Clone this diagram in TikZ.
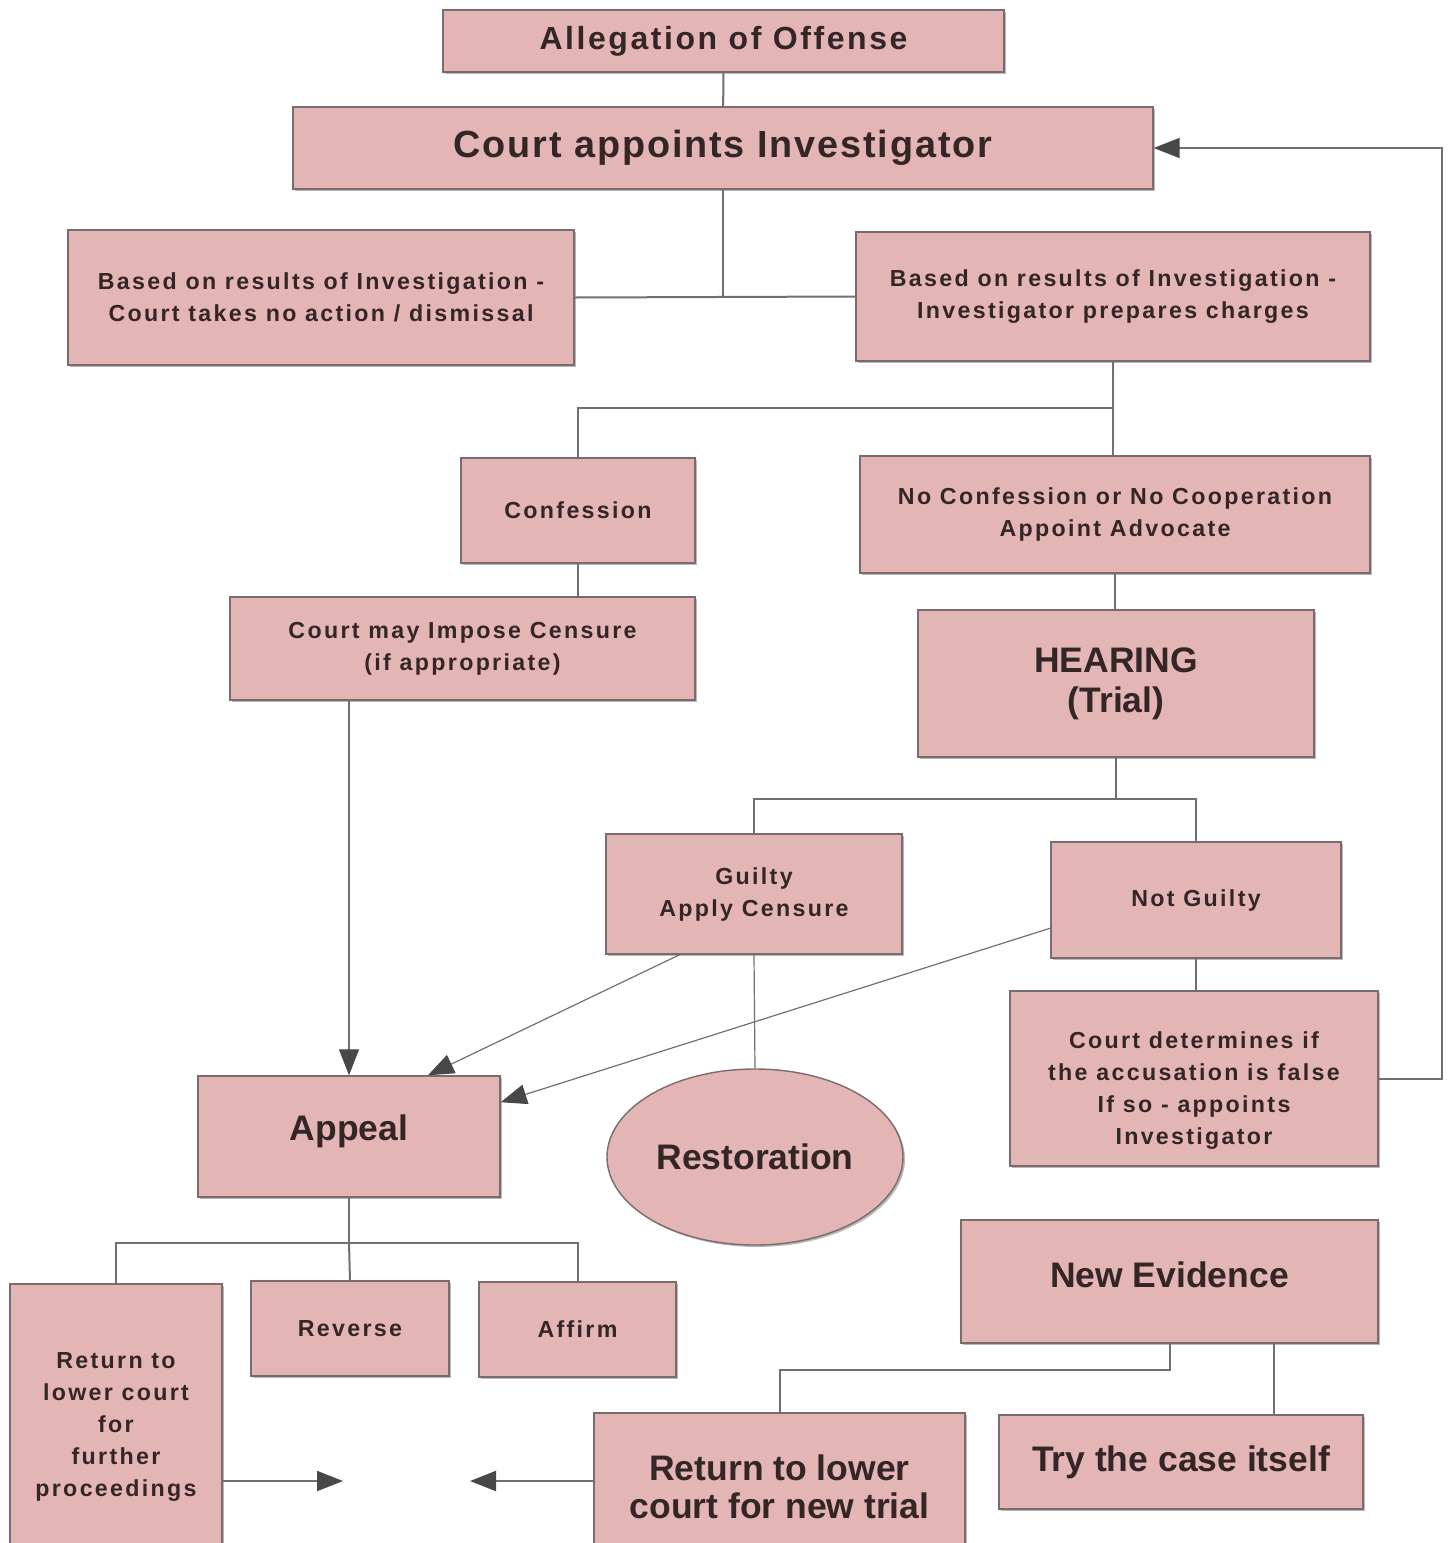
\documentclass[tikz,border=0pt]{standalone}
\usepackage{fontspec}
\setmainfont{Liberation Sans}
\newfontfamily\notefont[LetterSpace=10]{Liberation Sans}
\usetikzlibrary{calc,shapes.geometric,shadows,arrows.meta}
\definecolor{boxfill}{RGB}{227,181,181}
\definecolor{boxline}{RGB}{122,108,108}
\definecolor{ink}{RGB}{52,38,38}
\definecolor{linkgray}{RGB}{112,112,112}
\definecolor{tipgray}{RGB}{72,72,72}
\tikzset{
	box/.style={draw=boxline, line width=0.7pt, fill=boxfill, text=ink, align=center, inner sep=0pt,
		drop shadow={shadow xshift=1pt, shadow yshift=-1pt, fill=black!55, opacity=0.5}},
	sz/.style 2 args={minimum width=#1, minimum height=#2},
	note/.style={box, font=\notefont\bfseries\fontsize{11.6}{16}\selectfont},
	title/.style={box, font=\bfseries\fontsize{17.75}{20}\selectfont},
	link/.style={draw=linkgray, line width=1pt},
	thinlink/.style={draw=linkgray, line width=0.6pt},
	arr/.style={-{Triangle[length=13pt,width=10pt,color=tipgray]}}
}
\begin{document}
\begin{tikzpicture}[x=0.5pt,y=-0.5pt]
		%%%%% START %%%%%
		\useasboundingbox (0,0) rectangle (1448,1543);
		
		\node[title, sz={280.5pt}{31pt}, font=\bfseries\addfontfeature{LetterSpace=8}\fontsize{16}{20}\selectfont] (alleg) at (723.5,41) {Allegation of Offense};
		\node[title, sz={430pt}{41pt}, font=\bfseries\addfontfeature{LetterSpace=5}\fontsize{18.9}{22}\selectfont] (court) at (723,148) {Court appoints Investigator};
		
		\node[note, sz={253pt}{67.5pt}] (dismiss) at (321,297.5) {Based on results of Investigation -\\Court takes no action / dismissal};
		\node[note, sz={257pt}{64.5pt}] (charges) at (1113,296.5) {Based on results of Investigation -\\Investigator prepares charges};
		
		\node[note, sz={117pt}{52.5pt}] (confess) at (578,510.5) {Confession};
		\node[note, sz={255pt}{58.5pt}] (noconf) at (1115,514.5) {No Confession or No Cooperation\\Appoint Advocate};
		\node[note, sz={232.5pt}{51.5pt}] (censure) at (462.5,648.5) {Court may Impose Censure\\(if appropriate)};
		\node[title, sz={198pt}{73.5pt}] (hearing) at (1116,683.5) {HEARING\\(Trial)};
		
		\node[note, sz={148pt}{60pt}] (guilty) at (754,894) {Guilty\\Apply Censure};
		\node[note, sz={145pt}{58pt}] (notguilty) at (1196,900) {Not Guilty};
		\node[note, sz={184pt}{87.5pt}] (determ) at (1194,1078.5) {\rule{0pt}{20pt}Court determines if\\the accusation is false\\If so - appoints\\Investigator};
		
		\node[title, sz={151pt}{60.5pt}] (appeal) at (349,1136.5) {\rule[-9pt]{0pt}{9pt}Appeal};
		\node[title, ellipse, sz={148pt}{88pt}] (restor) at (755,1157) {Restoration};
		
		\node[note, sz={106pt}{143pt}] (further) at (116,1427) {Return to\\lower court\\for\\further\\proceedings};
		\node[note, sz={99pt}{47.5pt}] (reverse) at (350,1328.5) {Reverse};
		\node[note, sz={98.5pt}{47.5pt}] (affirm) at (577.5,1329.5) {Affirm};
		
		\node[title, sz={208.5pt}{61.5pt}] (newev) at (1169.5,1281.5) {\rule[-7pt]{0pt}{7pt}New Evidence};
		\node[title, sz={185.5pt}{74pt}, font=\bfseries\fontsize{17.75}{19}\selectfont] (newtrial) at (779.5,1487) {Return to lower\\court for new trial};
		\node[title, sz={182pt}{47pt}] (trycase) at (1181,1462) {Try the case itself};
		
		\coordinate (j2) at (1113,408);
		\coordinate (j3) at (1116,799);
		\coordinate (j4) at (349,1243);
		\coordinate (j5) at (1169.5,1370);
		\coordinate (furtherend) at (343,1481);
		\coordinate (trialend) at (470,1481);
		
		\draw[link] (alleg) -- (court);
		\draw[link] (court.south) -- (court.south |- dismiss.east);
		\draw[link] (dismiss.east) -- (charges.west);
		\draw[link] (charges.south) -- (charges.south |- noconf.north);
		\draw[link] (j2) -| (confess.north);
		\draw[link] (confess.south) -- (confess.south |- censure.north);
		\draw[link] (noconf.south) -- (noconf.south |- hearing.north);
		\draw[link] (hearing.south) -- (j3);
		\draw[link] (guilty.north) |- (j3) -| (notguilty.north);
		
		\draw[thinlink, arr] (appeal.north |- censure.south) -- (appeal.north);
		\draw[thinlink, arr] ($(guilty.south west)!0.25!(guilty.south east)$) -- ($(appeal.north west)!0.76!(appeal.north east)$);
		\draw[thinlink, arr] ($(notguilty.north west)!0.74!(notguilty.south west)$) -- ($(appeal.north east)!0.22!(appeal.south east)$);
		\draw[thinlink] (guilty.south) -- (restor.north);
		\draw[link] (notguilty.south) -- (notguilty.south |- determ.north);
		\draw[link, arr] (determ.east) -- ++(63,0) |- (court.east);
		
		\draw[link] (appeal.south) -- (j4);
		\draw[link] (further.north) |- (j4) -| (affirm.north);
		\draw[link] (j4) -- (reverse.north);
		\draw[link, arr] (further.east |- furtherend) -- (furtherend);
		\draw[link, arr] (newtrial.west |- trialend) -- (trialend);
		
		\draw[link] (newev.south) -- (j5) -| (newtrial.north);
		\coordinate (tryjoin) at ($(newev.south west)!0.75!(newev.south east)$);
		\draw[link] (tryjoin) -- (tryjoin |- trycase.north);
		
		%%%%% END %%%%%
	\end{tikzpicture}
\end{document}
